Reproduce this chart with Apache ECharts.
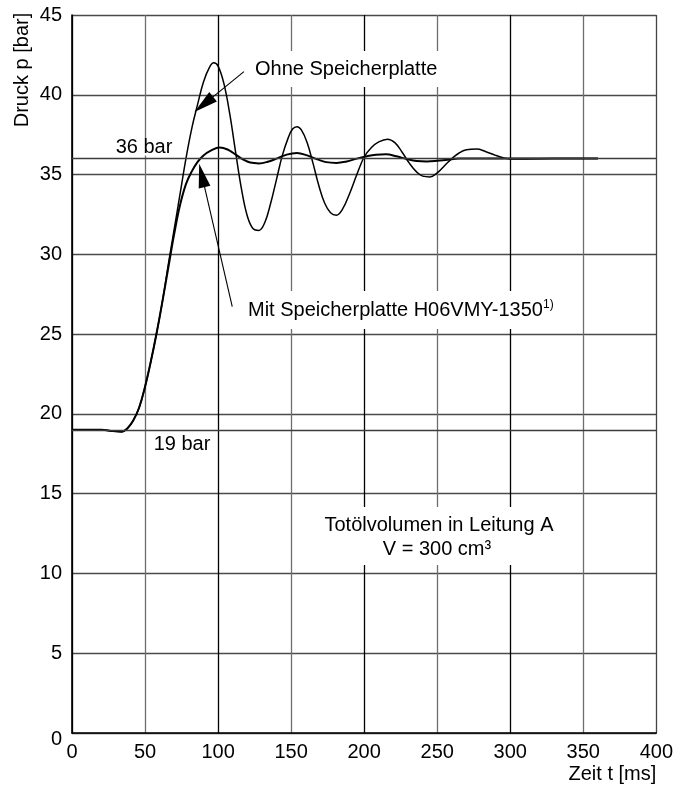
<!DOCTYPE html>
<html>
<head>
<meta charset="utf-8">
<title>Druckverlauf</title>
<script src="https://cdn.jsdelivr.net/npm/echarts@6/dist/echarts.min.js"></script>
<style>
  html, body { margin: 0; padding: 0; background: #fff; }
  #chart { width: 676px; height: 793px; }
</style>
</head>
<body>
<div id="chart"></div>
<script>
// Werte: Zeit [ms] / Druck [bar]
const tOhne = [0, 10, 20, 28, 34, 38, 42, 46, 50, 54, 58, 62, 66, 70, 74, 78, 82, 86, 90, 94, 97, 100,
  104, 108, 112, 116, 120, 124, 128, 132, 136, 140, 144, 148, 151, 154, 157, 161, 165, 169, 173, 177,
  181, 185, 190, 195, 200, 205, 210, 216, 221, 226, 231, 236, 240, 245, 250, 255, 260, 265, 270, 277,
  283, 290, 296, 300, 310, 330, 360]
const pOhne = [19.0, 19.0, 19.0, 18.92, 18.88, 19.1, 19.6, 20.4, 21.7, 23.3, 25.1, 27.1, 29.4, 31.6,
  33.8, 36.0, 37.9, 39.4, 40.8, 41.7, 42.0, 41.8, 40.7, 38.8, 36.4, 34.1, 32.4, 31.6, 31.5, 32.0, 33.2,
  34.7, 36.2, 37.3, 37.85, 38.0, 37.8, 37.0, 35.7, 34.3, 33.2, 32.6, 32.45, 32.8, 33.8, 35.0, 36.1,
  36.7, 37.05, 37.22, 37.0, 36.4, 35.7, 35.15, 34.9, 34.85, 35.1, 35.55, 36.0, 36.35, 36.55, 36.6,
  36.45, 36.2, 36.03, 35.98, 35.98, 36.0, 36.0]

const tMit = [0, 10, 20, 28, 34, 38, 42, 46, 50, 54, 58, 62, 66, 70, 74, 78, 82, 86, 90, 95, 101, 107,
  112, 117, 122, 128, 134, 140, 147, 154, 161, 168, 174, 181, 188, 195, 202, 208, 215, 222, 229, 236,
  243, 250, 257, 265, 280, 300, 330, 360]
const pMit = [19.0, 19.0, 19.0, 18.92, 18.88, 19.1, 19.6, 20.4, 21.7, 23.3, 25.1, 27.1, 29.2, 31.3,
  33.1, 34.4, 35.2, 35.8, 36.2, 36.5, 36.7, 36.55, 36.25, 35.95, 35.75, 35.7, 35.8, 36.0, 36.25, 36.35,
  36.2, 35.95, 35.78, 35.73, 35.82, 36.0, 36.15, 36.24, 36.27, 36.15, 35.98, 35.85, 35.82, 35.86,
  35.93, 36.0, 36.0, 36.0, 36.0, 36.0]

const refLines = [36, 19]   // Hilfslinien 36 bar / 19 bar
const xRange = [0, 400, 50]
const yRange = [0, 45, 5]

const FONT = '"Liberation Sans", Arial, Helvetica, sans-serif'

const zip = (xs, ys) => xs.map((x, i) => [x, ys[i]])

const chart = echarts.init(document.getElementById('chart'), null, { renderer: 'canvas' })

const arrowHead = { symbol: 'triangle', symbolSize: [12, 24] }
const arrowLine = { color: '#000', width: 1.1, type: 'solid' }

const option = {
  animation: false,
  backgroundColor: '#fff',
  textStyle: { fontFamily: FONT, color: '#000' },
  grid: { left: 72, right: 19, top: 15, bottom: 60, containLabel: false },
  xAxis: {
    type: 'value',
    min: xRange[0],
    max: xRange[1],
    interval: xRange[2],
    name: 'Zeit t [ms]',
    nameLocation: 'end',
    nameGap: 0,
    nameTextStyle: {
      fontFamily: FONT, fontSize: 20, color: '#000',
      align: 'right', verticalAlign: 'top', padding: [31, 0, 0, 0]
    },
    axisLine: { show: true, lineStyle: { color: '#000', width: 1.6 } },
    axisTick: { show: false },
    axisLabel: { color: '#000', fontSize: 20, fontFamily: FONT, margin: 9 },
    splitLine: { show: true, lineStyle: { color: ['#000', '#6e6e6e', '#000', '#6e6e6e', '#000', '#6e6e6e', '#000', '#6e6e6e', '#444'], width: 1.3 } }
  },
  yAxis: {
    type: 'value',
    min: yRange[0],
    max: yRange[1],
    interval: yRange[2],
    axisLine: { show: true, lineStyle: { color: '#000', width: 1.6 } },
    axisTick: { show: false },
    axisLabel: {
      color: '#000', fontSize: 20, fontFamily: FONT, margin: 10,
      formatter: v => v === 0 ? '{z|0}' : String(v),
      rich: { z: { fontSize: 20, fontFamily: FONT, color: '#000', padding: [12, 0, 0, 0] } }
    },
    splitLine: { show: true, lineStyle: { color: '#4a4a4a', width: 1.3 } }
  },
  series: [
    {
      name: 'Ohne Speicherplatte',
      type: 'line',
      data: zip(tOhne, pOhne),
      showSymbol: false,
      smooth: 0.4,
      lineStyle: { color: '#000', width: 1.5 },
      z: 3,
      markLine: {
        silent: true,
        symbol: 'none',
        label: { show: false },
        lineStyle: { color: '#3c3c3c', width: 1.3, type: 'solid' },
        data: [
          ...refLines.map(v => ({ yAxis: v })),
          [
            { coord: [117.7, 41.45], symbol: 'none', lineStyle: arrowLine },
            { coord: [90.2, 39.4], ...arrowHead, lineStyle: arrowLine }
          ]
        ]
      }
    },
    {
      name: 'Mit Speicherplatte',
      type: 'line',
      data: zip(tMit, pMit),
      showSymbol: false,
      smooth: 0.4,
      lineStyle: { color: '#000', width: 2 },
      z: 4,
      markLine: {
        silent: true,
        symbol: 'none',
        label: { show: false },
        lineStyle: arrowLine,
        data: [
          [
            { coord: [109.7, 26.73], symbol: 'none' },
            { coord: [88.9, 34.95], ...arrowHead }
          ]
        ]
      }
    }
  ],
  graphic: [
    {
      type: 'text', z: 100, rotation: Math.PI / 2, x: 22, y: 70,
      style: { text: 'Druck p [bar]', font: '20px ' + FONT, fill: '#000', align: 'center', verticalAlign: 'middle' }
    },
    {
      type: 'text', z: 100, x: 144, y: 147,
      style: { text: '36 bar', font: '20px ' + FONT, fill: '#000', align: 'center', verticalAlign: 'middle', backgroundColor: '#fff', padding: [-1, 3, -2, 3] }
    },
    {
      type: 'text', z: 100, x: 182, y: 444,
      style: { text: '19 bar', font: '20px ' + FONT, fill: '#000', align: 'center', verticalAlign: 'middle', backgroundColor: '#fff', padding: [0, 3] }
    },
    {
      type: 'text', z: 100, x: 251, y: 69,
      style: { text: 'Ohne Speicherplatte', font: '20px ' + FONT, fill: '#000', align: 'left', verticalAlign: 'middle', backgroundColor: '#fff', padding: [8, 4] }
    },
    {
      type: 'text', z: 100, x: 244, y: 310,
      style: {
        text: '{m|Mit Speicherplatte H06VMY-1350}{s|1)}',
        fill: '#000', align: 'left', verticalAlign: 'middle', backgroundColor: '#fff', padding: [8, 4],
        rich: {
          m: { fontSize: 20, fontFamily: FONT, lineHeight: 22 },
          s: { fontSize: 12, fontFamily: FONT, lineHeight: 12, verticalAlign: 'top' }
        }
      }
    },
    {
      type: 'rect', z: 99, shape: { x: 318, y: 507, width: 244, height: 58 },
      style: { fill: '#fff' }
    },
    {
      type: 'text', z: 100, x: 439, y: 525,
      style: { text: 'Totölvolumen in Leitung A', font: '20px ' + FONT, fill: '#000', align: 'center', verticalAlign: 'middle' }
    },
    {
      type: 'text', z: 100, x: 437, y: 549,
      style: { text: 'V = 300 cm³', font: '20px ' + FONT, fill: '#000', align: 'center', verticalAlign: 'middle' }
    }
  ]
}

chart.setOption(option)
</script>
</body>
</html>
